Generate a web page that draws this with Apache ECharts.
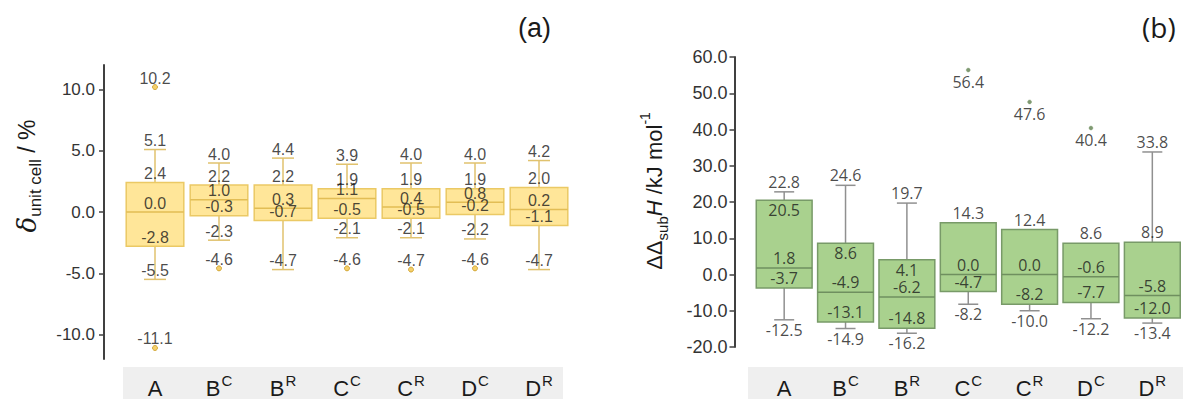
<!DOCTYPE html>
<html>
<head>
<meta charset="utf-8">
<script src="https://cdn.jsdelivr.net/npm/echarts@6/dist/echarts.min.js"></script>
<style>
html,body{margin:0;padding:0;background:#fff;}
#c{width:1183px;height:399px;}
</style>
</head>
<body>
<div id="c"></div>
<script>
// ---------- data ----------
const catBase = ['A', 'B', 'B', 'C', 'C', 'D', 'D'];
const catSup  = ['',  'C', 'R', 'C', 'R', 'C', 'R'];

// panel (a): delta unit cell / %
const cellMin = [-5.5, -2.3, -4.7, -2.1, -2.1, -2.2, -4.7];
const cellQ1  = [-2.8, -0.3, -0.7, -0.5, -0.5, -0.2, -1.1];
const cellMed = [0.0, 1.0, 0.3, 1.1, 0.4, 0.8, 0.2];
const cellQ3  = [2.4, 2.2, 2.2, 1.9, 1.9, 1.9, 2.0];
const cellMax = [5.1, 4.0, 4.4, 3.9, 4.0, 4.0, 4.2];
const cellOutliers = [[0, 10.2], [0, -11.1], [1, -4.6], [3, -4.6], [4, -4.7], [5, -4.6]];
const cellTicks = [-10, -5, 0, 5, 10];

// panel (b): delta delta sub H / kJ mol-1
const enthMin = [-12.5, -14.9, -16.2, -8.2, -10.0, -12.2, -13.4];
const enthQ1  = [-3.7, -13.1, -14.8, -4.7, -8.2, -7.7, -12.0];
const enthMed = [1.8, -4.9, -6.2, 0.0, 0.0, -0.6, -5.8];
const enthQ3  = [20.5, 8.6, 4.1, 14.3, 12.4, 8.6, 8.9];
const enthMax = [22.8, 24.6, 19.7, 14.3, 12.4, 8.6, 33.8];
const enthOutliers = [[3, 56.4], [4, 47.6], [5, 40.4]];

// ---------- styles ----------
const q3LabelPosB = ['bottom', 'bottom', 'bottom', 'top', 'top', 'top', 'top'];
const categories = catBase.map((b, i) => b + catSup[i]);

function boxData(mn, q1, md, q3, mx) {
  return mn.map((v, i) => [i, v, q1[i], md[i], q3[i], mx[i]]);
}

function makeRender(st) {
  return function (params, api) {
    const x = api.value(0);
    const pMin = api.coord([x, api.value(1)]);
    const yQ1 = api.coord([x, api.value(2)])[1];
    const yMed = api.coord([x, api.value(3)])[1];
    const yQ3 = api.coord([x, api.value(4)])[1];
    const yMax = api.coord([x, api.value(5)])[1];
    const cx = pMin[0];
    const yMin = pMin[1];
    const bw = api.size([1, 0])[0] * st.ratio;
    const cw = st.capW;
    const ls = { stroke: st.whisker, lineWidth: st.wWidth };
    const ch = [];
    if (yMax < yQ3 - 0.5) {
      ch.push({ type: 'line', shape: { x1: cx, y1: yMax, x2: cx, y2: yQ3 }, style: ls });
      ch.push({ type: 'line', shape: { x1: cx - cw / 2, y1: yMax, x2: cx + cw / 2, y2: yMax }, style: ls });
    }
    if (yMin > yQ1 + 0.5) {
      ch.push({ type: 'line', shape: { x1: cx, y1: yQ1, x2: cx, y2: yMin }, style: ls });
      ch.push({ type: 'line', shape: { x1: cx - cw / 2, y1: yMin, x2: cx + cw / 2, y2: yMin }, style: ls });
    }
    ch.push({ type: 'rect', shape: { x: cx - bw / 2, y: yQ3, width: bw, height: yQ1 - yQ3 },
      style: { fill: st.fill, stroke: st.border, lineWidth: st.bWidth } });
    ch.push({ type: 'line', shape: { x1: cx - bw / 2, y1: yMed, x2: cx + bw / 2, y2: yMed },
      style: { stroke: st.median, lineWidth: st.bWidth } });
    return { type: 'group', children: ch };
  };
}

function fmt(v) { return (Math.round(v * 10) / 10).toFixed(1); }

// labels panel a: every value labelled above
const labelsA = [];
for (let i = 0; i < categories.length; i++) {
  [cellMax[i], cellQ3[i], cellMed[i], cellQ1[i], cellMin[i]].forEach(v => {
    labelsA.push({ value: [i, v], label: { position: 'top' } });
  });
}
cellOutliers.forEach(o => labelsA.push({ value: o, label: { position: 'top' } }));

// labels panel b
const labelsB = [];
for (let i = 0; i < categories.length; i++) {
  if (enthMax[i] !== enthQ3[i]) labelsB.push({ value: [i, enthMax[i]], label: { position: 'top' } });
  labelsB.push({ value: [i, enthQ3[i]], label: { position: q3LabelPosB[i] } });
  labelsB.push({ value: [i, enthMed[i]], label: { position: 'top' } });
  labelsB.push({ value: [i, enthQ1[i]], label: { position: 'top' } });
  labelsB.push({ value: [i, enthMin[i]], label: { position: 'bottom' } });
}
enthOutliers.forEach(o => labelsB.push({ value: o, label: { position: 'bottom', distance: 4 } }));

const catRich = {
  b: { fontFamily: 'Liberation Sans', fontSize: 22, color: '#1a1a1a', lineHeight: 28, verticalAlign: 'bottom' },
  s: { fontFamily: 'Liberation Sans', fontSize: 15, color: '#1a1a1a', lineHeight: 28, verticalAlign: 'top', padding: [2, 0, 0, 1] }
};
function catFmt(v, idx) {
  const i = categories.indexOf(v);
  return '{b|' + catBase[i] + '}' + (catSup[i] ? '{s|' + catSup[i] + '}' : '');
}

const chart = echarts.init(document.getElementById('c'), null, { renderer: 'svg' });
chart.setOption({
  backgroundColor: '#ffffff',
  animation: false,
  grid: [
    { left: 123, right: 612, top: 65, bottom: 39 },
    { left: 753.5, right: -11.5, top: 57, bottom: 51 }
  ],
  xAxis: [
    { type: 'category', gridIndex: 0, data: categories, boundaryGap: true,
      axisLine: { show: false }, axisTick: { show: false }, splitLine: { show: false },
      axisLabel: { interval: 0, hideOverlap: false, margin: 12, formatter: catFmt, rich: catRich } },
    { type: 'category', gridIndex: 1, data: categories, boundaryGap: true,
      axisLine: { show: false }, axisTick: { show: false }, splitLine: { show: false },
      axisLabel: { interval: 0, hideOverlap: false, margin: 24, formatter: catFmt, rich: catRich } }
  ],
  yAxis: [
    { type: 'value', gridIndex: 0, min: -12, max: 12, offset: 19,
      axisLine: { show: true, lineStyle: { color: '#404040', width: 2 } },
      axisTick: { show: true, length: 5, customValues: cellTicks, lineStyle: { color: '#404040', width: 1.5 } },
      axisLabel: { customValues: cellTicks, margin: 9, formatter: v => fmt(v),
        fontFamily: 'Liberation Sans', fontSize: 17, color: '#333' },
      splitLine: { show: false } },
    { type: 'value', gridIndex: 1, min: -20, max: 60, interval: 10, offset: 19,
      axisLine: { show: true, lineStyle: { color: '#404040', width: 2 } },
      axisTick: { show: true, length: 5, lineStyle: { color: '#404040', width: 1.5 } },
      axisLabel: { margin: 7, formatter: v => fmt(v),
        fontFamily: 'Liberation Sans', fontSize: 18, color: '#333' },
      splitLine: { show: false } }
  ],
  graphic: [
    { type: 'rect', z: -10, shape: { x: 123, y: 367, width: 440, height: 32 }, style: { fill: '#efefef' }, silent: true },
    { type: 'rect', z: -10, shape: { x: 748, y: 367, width: 435, height: 32 }, style: { fill: '#efefef' }, silent: true },
    { type: 'text', x: 518, y: 14, style: { text: '(a)', font: '27px "Liberation Sans"', fill: '#1a1a1a' } },
    { type: 'text', x: 1142, y: 13, style: { text: '(b)', font: '28px "Open Sans"', fill: '#1a1a1a' } },
    { type: 'text', x: 27, y: 176, rotation: Math.PI / 2,
      style: { text: '{d|δ}{s|unit cell}{n| / %}', align: 'center', verticalAlign: 'middle',
        rich: {
          d: { fontFamily: 'DejaVu Serif', fontStyle: 'italic', fontSize: 26, fill: '#1a1a1a', lineHeight: 34, verticalAlign: 'middle' },
          s: { fontFamily: 'Liberation Sans', fontSize: 17, fill: '#1a1a1a', lineHeight: 34, verticalAlign: 'bottom' },
          n: { fontFamily: 'Liberation Sans', fontSize: 23, fill: '#1a1a1a', lineHeight: 34, verticalAlign: 'middle' }
        } } },
    { type: 'text', x: 654, y: 191, rotation: Math.PI / 2,
      style: { text: '{n|ΔΔ}{s|sub}{i|H}{n| /kJ mol}{p|-1}', align: 'center', verticalAlign: 'middle',
        rich: {
          n: { fontFamily: 'Liberation Sans', fontSize: 22, fill: '#1a1a1a', lineHeight: 32, verticalAlign: 'middle' },
          i: { fontFamily: 'Liberation Sans', fontStyle: 'italic', fontSize: 22, fill: '#1a1a1a', lineHeight: 32, verticalAlign: 'middle' },
          s: { fontFamily: 'Liberation Sans', fontSize: 15, fill: '#1a1a1a', lineHeight: 32, verticalAlign: 'bottom' },
          p: { fontFamily: 'Liberation Sans', fontSize: 14, fill: '#1a1a1a', lineHeight: 32, verticalAlign: 'top' }
        } } }
  ],
  series: [
    { type: 'custom', xAxisIndex: 0, yAxisIndex: 0, z: 2,
      data: boxData(cellMin, cellQ1, cellMed, cellQ3, cellMax),
      encode: { x: 0, y: [1, 2, 3, 4, 5] },
      renderItem: makeRender({ ratio: 0.9, capW: 22, fill: '#ffe699', border: '#ebc965', median: '#e2bd55',
        whisker: '#e0c26e', wWidth: 1.5, bWidth: 1.5 }) },
    { type: 'scatter', xAxisIndex: 0, yAxisIndex: 0, z: 3, data: cellOutliers,
      symbol: 'circle', symbolSize: 5, itemStyle: { color: '#f2c447', borderColor: '#c99a1e', borderWidth: 1 } },
    { type: 'scatter', xAxisIndex: 0, yAxisIndex: 0, z: 5, data: labelsA, symbolSize: 0, silent: true,
      labelLayout: { hideOverlap: false },
      label: { show: true, distance: 1, formatter: p => fmt(p.value[1]),
        fontFamily: 'Liberation Sans', fontSize: 16, color: '#1a1a1a' } },
    { type: 'custom', xAxisIndex: 1, yAxisIndex: 1, z: 2,
      data: boxData(enthMin, enthQ1, enthMed, enthQ3, enthMax),
      encode: { x: 0, y: [1, 2, 3, 4, 5] },
      renderItem: makeRender({ ratio: 0.91, capW: 20, fill: '#a9d18e', border: '#789a68', median: '#6f8f5f',
        whisker: '#909090', wWidth: 1.5, bWidth: 1.5 }) },
    { type: 'scatter', xAxisIndex: 1, yAxisIndex: 1, z: 3, data: enthOutliers,
      symbol: 'circle', symbolSize: 4, itemStyle: { color: '#5f7f4f', borderColor: '#8aa67a', borderWidth: 0.5 } },
    { type: 'scatter', xAxisIndex: 1, yAxisIndex: 1, z: 5, data: labelsB, symbolSize: 0, silent: true,
      labelLayout: { hideOverlap: false },
      label: { show: true, distance: 2, formatter: p => fmt(p.value[1]),
        fontFamily: 'Open Sans', fontSize: 16, color: '#1a1a1a' } }
  ]
});
</script>
</body>
</html>
